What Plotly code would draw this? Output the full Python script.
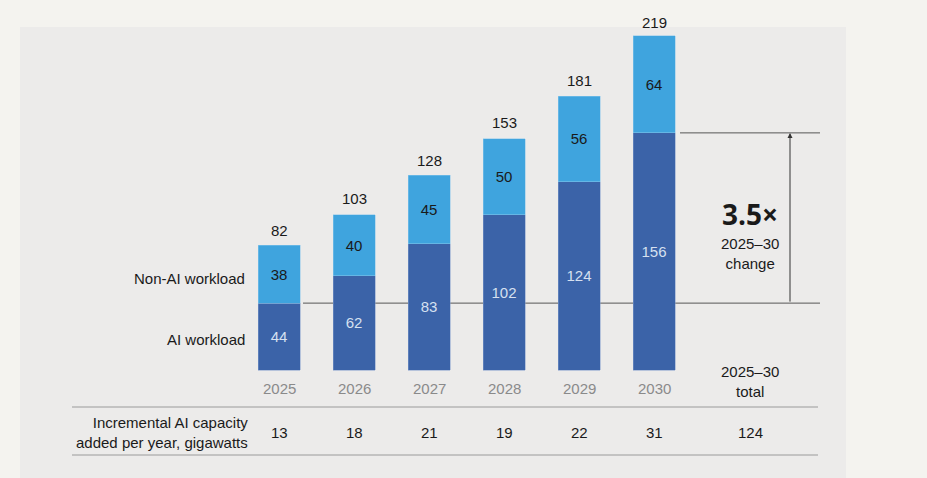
import plotly.graph_objects as go

years = [2025, 2026, 2027, 2028, 2029, 2030]
ai_workload = [44, 62, 83, 102, 124, 156]
non_ai_workload = [38, 40, 45, 50, 56, 64]
totals = [82, 103, 128, 153, 181, 219]
incremental_ai = [13, 18, 21, 19, 22, 31]
incremental_total = 124
change_label = "3.5×"

W, H = 927, 478
DARK = "#3b63a8"
LIGHT = "#3fa4de"
TXT = "#1a1a1a"
FONT = "Liberation Sans"
FS = 15

# x axis: 1 year = 75 px, 2025 bar centred at px 279
x_lo = 2025 - 279 / 75
x_hi = 2025 + (W - 279) / 75
# y axis: baseline at px 370, 1.52 px per GW
ppu = 1.52
y_hi = 370 / ppu
y_lo = -(H - 370) / ppu


def px_x(p):
    return x_lo + p / 75


def px_y(p):
    return (370 - p) / ppu


total_x = px_x(750)

fig = go.Figure()

fig.add_trace(go.Bar(
    x=years, y=ai_workload, width=0.56, marker_color=DARK,
    marker_line=dict(color="#7f9ccc", width=0.5),
    text=ai_workload, textposition="inside", insidetextanchor="middle",
    textfont=dict(color="#d6e0f0", size=FS, family=FONT),
    name="AI workload", showlegend=False,
))
fig.add_trace(go.Bar(
    x=years, y=non_ai_workload, width=0.56, marker_color=LIGHT,
    marker_line=dict(color="#8cc8ec", width=0.5),
    text=non_ai_workload, textposition="inside", insidetextanchor="middle",
    textfont=dict(color=TXT, size=FS, family=FONT),
    name="Non-AI workload", showlegend=False,
))

shapes = [
    # inner panel
    dict(type="rect", xref="paper", yref="paper", x0=20 / W, x1=846 / W,
         y0=0, y1=1 - 27 / H, fillcolor="#ecebea", line_width=0, layer="below"),
    # reference lines at 2025 and 2030 AI workload
    dict(type="line", x0=px_x(303), x1=px_x(820), y0=ai_workload[0], y1=ai_workload[0],
         line=dict(color="#555555", width=1), layer="below"),
    dict(type="line", x0=px_x(680), x1=px_x(820), y0=ai_workload[-1], y1=ai_workload[-1],
         line=dict(color="#555555", width=1), layer="below"),
    # table rules
    dict(type="line", xref="paper", yref="paper", x0=72 / W, x1=818 / W,
         y0=1 - 407 / H, y1=1 - 407 / H, line=dict(color="#9a9a9a", width=1)),
    dict(type="line", xref="paper", yref="paper", x0=72 / W, x1=818 / W,
         y0=1 - 455 / H, y1=1 - 455 / H, line=dict(color="#9a9a9a", width=1)),
]

ann = []
# totals above bars
for yr, t in zip(years, totals):
    ann.append(dict(x=yr, y=t, text=str(t), showarrow=False, yanchor="bottom", yshift=4,
                    font=dict(size=FS, color=TXT, family=FONT)))
# arrow
ann.append(dict(x=px_x(790), y=ai_workload[-1], ax=px_x(790), ay=ai_workload[0],
                xref="x", yref="y", axref="x", ayref="y", text="", showarrow=True,
                arrowhead=2, arrowsize=1, arrowwidth=1, arrowcolor="#333333"))
# change labels
ann.append(dict(x=total_x, y=px_y(214), text="<b>" + change_label + "</b>", showarrow=False,
                font=dict(size=28, color=TXT, family="Open Sans")))
ann.append(dict(x=total_x, y=px_y(253), text="2025–30<br>change", showarrow=False,
                font=dict(size=FS, color=TXT, family=FONT)))
ann.append(dict(x=total_x, y=px_y(381), text="2025–30<br>total", showarrow=False,
                font=dict(size=FS, color=TXT, family=FONT)))
# series labels
ann.append(dict(x=px_x(247), y=px_y(278), text="Non-AI workload", showarrow=False,
                xanchor="right", font=dict(size=FS, color=TXT, family=FONT)))
ann.append(dict(x=px_x(247), y=px_y(339), text="AI workload", showarrow=False,
                xanchor="right", font=dict(size=FS, color=TXT, family=FONT)))
# year labels and table values
for yr, inc in zip(years, incremental_ai):
    ann.append(dict(x=yr, y=px_y(388), text=str(yr), showarrow=False,
                    font=dict(size=FS, color="#8a8a8a", family=FONT)))
    ann.append(dict(x=yr, y=px_y(432), text=str(inc), showarrow=False,
                    font=dict(size=FS, color=TXT, family=FONT)))
ann.append(dict(x=total_x, y=px_y(432), text=str(incremental_total), showarrow=False,
                font=dict(size=FS, color=TXT, family=FONT)))
ann.append(dict(x=px_x(250), y=px_y(432), text="Incremental AI capacity<br>added per year, gigawatts",
                showarrow=False, xanchor="right", align="right",
                font=dict(size=FS, color=TXT, family=FONT)))

fig.update_layout(
    width=W, height=H, barmode="stack",
    margin=dict(l=0, r=0, t=0, b=0),
    paper_bgcolor="#f4f3ef", plot_bgcolor="rgba(0,0,0,0)",
    xaxis=dict(range=[x_lo, x_hi], visible=False, fixedrange=True),
    yaxis=dict(range=[y_lo, y_hi], visible=False, fixedrange=True),
    shapes=shapes, annotations=ann, uniformtext=dict(mode=False),
)

fig.write_html("out.html", config={"displayModeBar": False},
               post_script="document.body.style.margin='0';")
